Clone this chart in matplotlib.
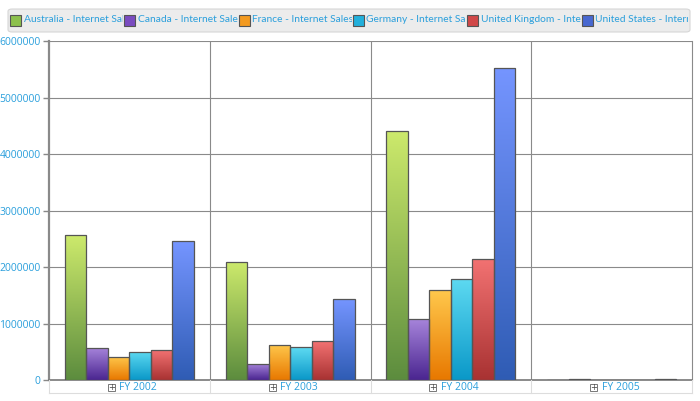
import matplotlib
matplotlib.use("Agg")
import matplotlib.pyplot as plt
import numpy as np
from matplotlib.colors import LinearSegmentedColormap
from matplotlib.patches import FancyBboxPatch, Rectangle
from matplotlib.transforms import Bbox

categories = ["FY 2002", "FY 2003", "FY 2004", "FY 2005"]
series_names = ["Australia - Internet Sales", "Canada - Internet Sales", "France - Internet Sales",
                "Germany - Internet Sales", "United Kingdom - Internet Sales", "United States - Internet Sales"]
australia = [2563000, 2090000, 4410000, 0]
canada = [570000, 290000, 1080000, 14000]
france = [410000, 620000, 1590000, 0]
germany = [500000, 580000, 1790000, 0]
united_kingdom = [530000, 690000, 2140000, 0]
united_states = [2460000, 1430000, 5520000, 16000]
series_values = [australia, canada, france, germany, united_kingdom, united_states]

tops = ["#cdea6c", "#a886dc", "#ffc84c", "#5edaf2", "#f27272", "#7595ff"]
bottoms = ["#5c8c3e", "#4a2590", "#e87800", "#0a98c8", "#a83232", "#2f5cb4"]
legend_cols = ["#8cc04c", "#7a4cc0", "#f39a20", "#22b0dc", "#d04848", "#4868d0"]

W, H = 700, 401
fig = plt.figure(figsize=(7, 4.01), dpi=100)
ax = fig.add_axes([49 / W, (H - 380) / H, (692 - 49) / W, (380 - 41) / H])

blue = "#2a9fdc"
bw = 0.134
start = 0.098
grad = np.linspace(0, 1, 256).reshape(-1, 1)
for j, vals in enumerate(series_values):
    xs = np.arange(len(categories)) + start + bw * (j + 0.5)
    bars = ax.bar(xs, vals, width=bw, facecolor="none", edgecolor="#555555", linewidth=0.9, zorder=4)
    cmap = LinearSegmentedColormap.from_list("g%d" % j, [bottoms[j], tops[j]])
    for b in bars:
        x0, y0 = b.get_x(), b.get_y()
        w, h = b.get_width(), b.get_height()
        if h <= 0:
            continue
        im = ax.imshow(grad, cmap=cmap, origin="lower", aspect="auto",
                       extent=[x0, x0 + w, y0, y0 + h], zorder=3, interpolation="bilinear")
        im.set_clip_path(b)

ax.set_xlim(0, len(categories))
ax.set_ylim(0, 6000000)
yt = np.arange(0, 6000001, 1000000)
ax.set_yticks(yt)
ax.set_yticklabels([str(int(v)) for v in yt], color=blue, fontsize=7.5, family="Open Sans")
ax.tick_params(axis="y", length=4, width=1, color="#888888", pad=2)
ax.set_xticks([])
for v in yt[1:]:
    ax.axhline(v, color="#8a8a8a", linewidth=0.8, zorder=1)
for c in range(1, len(categories)):
    ax.axvline(c, color="#8a8a8a", linewidth=0.8, zorder=1)
for s in ["top", "right"]:
    ax.spines[s].set_visible(False)
ax.spines["left"].set_color("#8a8a8a")
ax.spines["left"].set_linewidth(1.6)
ax.spines["bottom"].set_color("#777777")
ax.spines["bottom"].set_linewidth(1.2)
ax.plot([len(categories)] * 2, [0, 6000000], color="#8a8a8a", lw=0.8, clip_on=False)

fx = lambda px: px / W
fy = lambda py: (H - py) / H

# category label row
fig.add_artist(plt.Line2D([fx(49), fx(692)], [fy(393), fy(393)], color="#dddddd", lw=0.8))
for k in range(len(categories) + 1):
    xp = 49 + k * (692 - 49) / len(categories)
    fig.add_artist(plt.Line2D([fx(xp), fx(xp)], [fy(380), fy(393)], color="#dddddd", lw=0.8))
for k, cat in enumerate(categories):
    cx = 49 + (k + 0.5) * (692 - 49) / len(categories)
    bx = cx - 18
    fig.add_artist(Rectangle((fx(bx - 3.5), fy(390.5)), 7 / W, 7 / H, facecolor="white",
                             edgecolor="#777777", lw=0.7))
    fig.text(fx(bx), fy(387), "+", ha="center", va="center", fontsize=6, color="#444444")
    fig.text(fx(bx + 8), fy(387), cat, ha="left", va="center", fontsize=7.5, color=blue,
             family="Open Sans")

# legend
leg = FancyBboxPatch((fx(8), fy(32)), (690 - 8) / W, 23 / H,
                     boxstyle="round,pad=0,rounding_size=0.006", facecolor="#ececec",
                     edgecolor="#d6d6d6", lw=0.8, transform=fig.transFigure)
fig.add_artist(leg)
step = 114.3
for j, name in enumerate(series_names):
    x0 = 10 + j * step
    fig.add_artist(Rectangle((fx(x0), fy(25.5)), 11 / W, 11 / H, facecolor=legend_cols[j],
                             edgecolor="#555555", lw=0.8))
    t = fig.text(fx(x0 + 13.5), fy(20), name, ha="left", va="center", fontsize=7.4, color=blue,
                 family="Lato")
    right = min(x0 + step - 1, 688)
    clip = Bbox.from_extents(x0 + 12, 0, right, H)
    t.set_clip_box(clip)
    t.set_clip_on(True)

fig.savefig("out.png", dpi=100, facecolor="white")
